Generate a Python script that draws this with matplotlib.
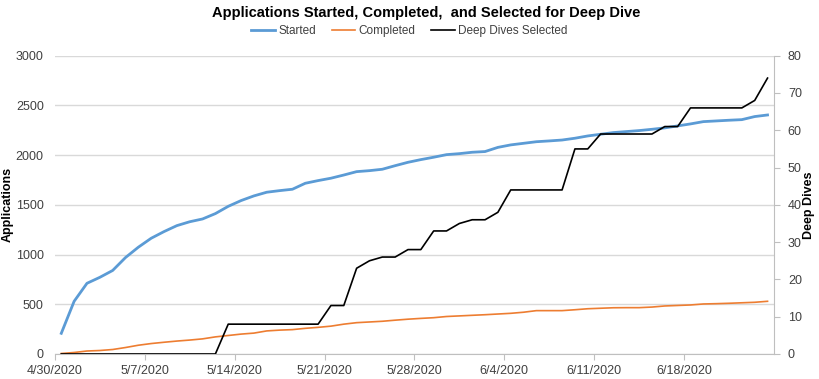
import matplotlib
matplotlib.use("Agg")
import matplotlib.pyplot as plt
import numpy as np
import pandas as pd

plt.rcParams['font.family'] = ['Liberation Sans Narrow', 'Liberation Sans', 'DejaVu Sans']

# 資料（每日，4/30/2020 起共 56 天）
dates = pd.date_range("2020-04-30", periods=56, freq="D")

started = [
    208, 530, 711, 771, 840, 970, 1074, 1164, 1231, 1291,
    1330, 1358, 1412, 1485, 1543, 1590, 1627, 1643, 1657, 1717,
    1744, 1768, 1800, 1834, 1844, 1858, 1894, 1928, 1955, 1979,
    2005, 2015, 2029, 2036, 2078, 2103, 2119, 2135, 2143, 2152,
    2170, 2193, 2210, 2227, 2237, 2247, 2260, 2274, 2294, 2314,
    2337, 2344, 2351, 2357, 2388, 2404,
]
completed = [
    5, 15, 30, 35, 45, 65, 88, 105, 118, 130,
    140, 152, 172, 186, 200, 210, 232, 240, 245, 258,
    268, 280, 300, 315, 322, 329, 340, 350, 358, 365,
    377, 383, 389, 395, 402, 409, 420, 436, 436, 436,
    445, 455, 460, 465, 466, 466, 472, 483, 488, 493,
    503, 506, 510, 515, 520, 530,
]
deep_dives = [
    0, 0, 0, 0, 0, 0, 0, 0, 0, 0,
    0, 0, 0, 8, 8, 8, 8, 8, 8, 8,
    8, 13, 13, 23, 25, 26, 26, 28, 28, 33,
    33, 35, 36, 36, 38, 44, 44, 44, 44, 44,
    55, 55, 59, 59, 59, 59, 59, 61, 61, 66,
    66, 66, 66, 66, 68, 74,
]

tick_dates = pd.date_range("2020-04-30", periods=8, freq="7D")
tick_labels = ["4/30/2020", "5/7/2020", "5/14/2020", "5/21/2020",
               "5/28/2020", "6/4/2020", "6/11/2020", "6/18/2020"]

left_ticks = [0, 500, 1000, 1500, 2000, 2500, 3000]
right_ticks = [0, 10, 20, 30, 40, 50, 60, 70, 80]

BLUE = '#5B9BD5'
ORANGE = '#ED7D31'
AXIS_GRAY = '#BFBFBF'
TEXT = '#404040'

fig = plt.figure(figsize=(8.19, 3.79), dpi=100)
ax = fig.add_axes([0.067, 0.066, 0.878, 0.787])
ax2 = ax.twinx()

# 每日資料點置於當天中央
x = dates + pd.Timedelta(hours=12)

l1, = ax.plot(x, started, color=BLUE, linewidth=2.0, label='Started')
l2, = ax.plot(x, completed, color=ORANGE, linewidth=1.2, label='Completed')
l3, = ax2.plot(x, deep_dives, color='black', linewidth=1.2, label='Deep Dives Selected')

ax.set_xlim(dates[0], dates[-1] + pd.Timedelta(days=1))
ax.set_ylim(0, 3000)
ax2.set_ylim(0, 80)

ax.set_yticks(left_ticks)
ax2.set_yticks(right_ticks)
ax.set_xticks(tick_dates)
ax.set_xticklabels(tick_labels)

ax.grid(axis='y', color='#D9D9D9', linewidth=1.0)
ax.set_axisbelow(True)

for a in (ax, ax2):
    for s in ('top', 'left', 'right'):
        a.spines[s].set_visible(False)
    a.spines['bottom'].set_color(AXIS_GRAY)
ax2.spines['right'].set_visible(True)
ax2.spines['right'].set_color(AXIS_GRAY)
ax2.spines['bottom'].set_visible(False)

ax.tick_params(axis='y', length=0, labelsize=9, labelcolor=TEXT, pad=8)
ax.tick_params(axis='x', length=4, color=AXIS_GRAY, labelsize=9, labelcolor=TEXT, pad=4)
ax2.tick_params(axis='y', length=4, color=AXIS_GRAY, labelsize=9, labelcolor=TEXT, pad=6)

ax.set_ylabel('Applications', fontsize=9, fontweight='bold', color='black')
ax2.set_ylabel('Deep Dives', fontsize=9, fontweight='bold', color='black')
ax.yaxis.set_label_coords(-0.057, 0.5)
ax2.yaxis.set_label_coords(1.040, 0.5)

fig.suptitle('Applications Started, Completed,  and Selected for Deep Dive',
             x=0.52, y=0.985, fontsize=10.5, fontweight='bold', color='black')

fig.legend(handles=[l1, l2, l3], loc='center', bbox_to_anchor=(0.5, 0.918),
           ncol=3, frameon=False, fontsize=8.5, handlelength=2.0,
           handletextpad=0.3, columnspacing=1.3, labelcolor=TEXT)

fig.savefig('out.png', dpi=100)
